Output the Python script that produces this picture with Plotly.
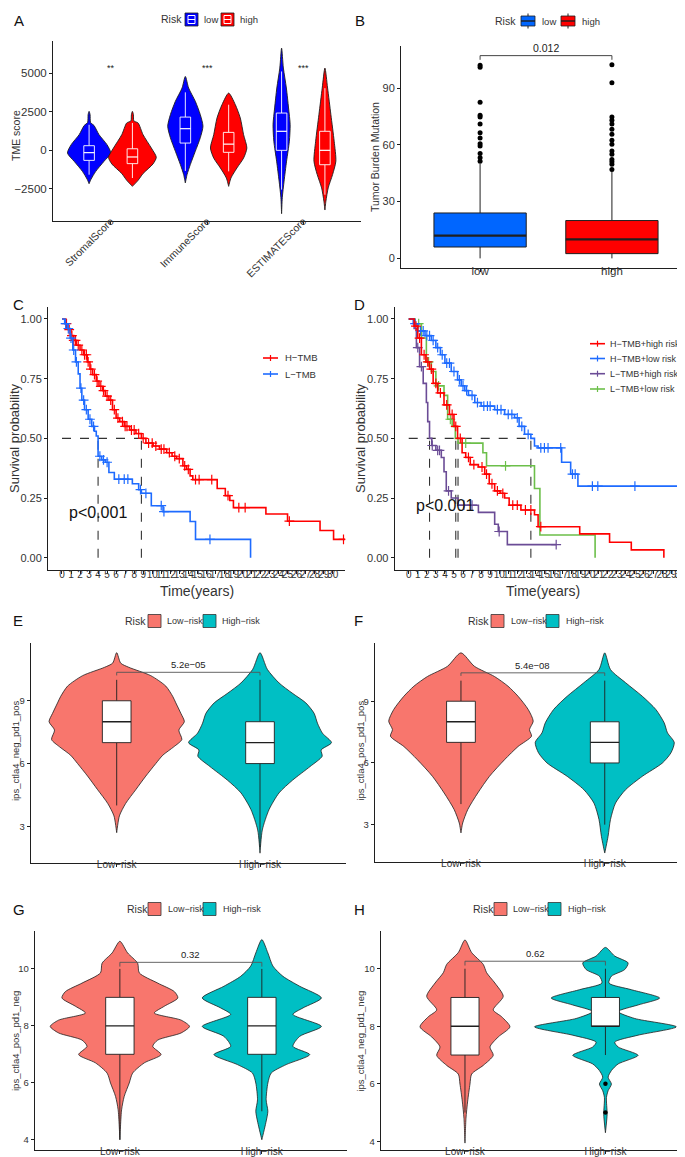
import numpy as np
import plotly.graph_objects as go

W, H = 685, 1157
FONT = "Liberation Sans, Arial, Helvetica, sans-serif"
INK = "#1f1f1f"
TXT = "#333333"


def px(x):
    return x / W


def py(y):
    return 1 - y / H


# ---------------- Panel A : TME score violins ----------------
A_CATEGORIES = ["StromalScore", "ImmuneScore", "ESTIMATEScore"]
A_SIGNIF = ["**", "***", "***"]
A_SIGNIF_Y = 5300
A_LOW_Q1 = [-650, 470, 0]
A_LOW_MED = [-150, 1400, 1230]
A_LOW_Q3 = [300, 2150, 2410]
A_LOW_LO = [-1575, -1330, -2540]
A_LOW_HI = [1650, 3750, 5100]
A_HIGH_Q1 = [-860, -130, -930]
A_HIGH_MED = [-430, 400, 0]
A_HIGH_Q3 = [100, 1160, 1230]
A_HIGH_LO = [-1790, -1360, -2870]
A_HIGH_HI = [1770, 2950, 4020]
A_STROMAL_LOW_VALS = [2520, 2300, 1800, 1600, 1010, 365, -175, -710, -1360, -1900, -2160]
A_STROMAL_LOW_DENS = [0, 1.0, 1.5, 5, 10, 18, 21.7, 15, 6.7, 1.7, 0]
A_STROMAL_HIGH_VALS = [2520, 2300, 1900, 1770, 1010, 150, -450, -880, -1500, -1940, -2330]
A_STROMAL_HIGH_DENS = [0, 1.0, 1.5, 5.7, 10.7, 19, 24, 20.7, 10.7, 5.7, 0]
A_IMMUNE_LOW_VALS = [4780, 4030, 3170, 2310, 1560, 810, -60, -920, -1570, -2110]
A_IMMUNE_LOW_DENS = [0, 3.3, 10, 15, 17.7, 15, 10, 5, 1.7, 0]
A_IMMUNE_HIGH_VALS = [3700, 2950, 2090, 1010, 150, -500, -1140, -1790, -2330]
A_IMMUNE_HIGH_DENS = [0, 6.7, 11.7, 15, 18.3, 15, 8.3, 2.3, 0]
A_ESTIMATE_LOW_VALS = [6610, 5320, 4030, 2740, 1660, 590, -700, -1990, -3060, -4100]
A_ESTIMATE_LOW_DENS = [0, 1.8, 4.8, 7.0, 8.6, 7.8, 5.0, 2.5, 0.7, 0]
A_ESTIMATE_HIGH_VALS = [5320, 4030, 2310, 590, -700, -1570, -2430, -3290, -3860]
A_ESTIMATE_HIGH_DENS = [0, 2.7, 6, 9.3, 11, 7.7, 3.3, 1, 0]

# ---------------- Panel B : TMB boxplot ----------------
B_CATEGORIES = ["low", "high"]
B_Q1 = [6, 2.5]
B_MEDIAN = [12, 10]
B_Q3 = [24, 20]
B_LOWER = [0, 0]
B_UPPER = [50, 46]
B_OUTLIERS_LOW = [51.4, 53.2, 55.5, 59.4, 60.6, 63.7, 66.4, 71.1, 74.8, 75.7, 82.6, 101.1, 102.1]
B_OUTLIERS_HIGH = [47, 49.7, 51.1, 52.3, 55, 56.8, 60.3, 62.5, 65.6, 68.3, 71, 73, 74.8, 92.8, 102.4]
B_PVALUE = "0.012"
B_BRACKET_Y = 107.2
B_BRACKET_TIP = 105.0

# ---------------- Panel C : KM by TMB ----------------
C_HTMB_T = [0, 0.4, 0.7, 1.0, 1.3, 1.6, 2.0, 2.4, 2.8, 3.1, 3.4, 3.8, 4.1, 4.5, 4.8, 5.2, 5.6, 6.0,
            6.4, 6.9, 7.5, 8.2, 8.8, 9.3, 10.1, 10.8, 11.6, 12.2, 12.7, 13.4, 13.8, 14.2, 14.5,
            17.2, 18.1, 18.6, 19.0, 22.6, 25.0, 28.6, 30.1, 31.4]
C_HTMB_S = [1, 0.98, 0.955, 0.93, 0.91, 0.89, 0.87, 0.85, 0.82, 0.79, 0.767, 0.74, 0.718, 0.70,
            0.677, 0.66, 0.62, 0.585, 0.57, 0.55, 0.535, 0.52, 0.50, 0.48, 0.468, 0.455, 0.44,
            0.425, 0.415, 0.385, 0.37, 0.343, 0.327, 0.29, 0.26, 0.24, 0.21, 0.183, 0.153, 0.114,
            0.077, 0.077]
C_HTMB_CENSOR = [0.5, 0.8, 1.1, 1.3, 1.5, 1.8, 2.2, 2.5, 2.7, 2.9, 3.2, 3.6, 3.9, 4.3, 4.6, 5.0,
                 5.4, 5.8, 6.2, 6.7, 7.0, 7.2, 7.7, 8.0, 8.5, 9.0, 9.6, 10.0, 10.4, 11.0, 11.3,
                 11.9, 12.5, 13.0, 13.6, 14.0, 14.8, 15.2, 16.6, 18.4, 19.6, 20.3, 25.2, 31.2]
C_LTMB_T = [0, 0.3, 0.6, 0.9, 1.2, 1.5, 1.8, 2.0, 2.2, 2.5, 2.9, 3.3, 3.6, 3.8, 4.0, 4.4, 4.8, 5.2,
            5.8, 7.8, 8.5, 8.8, 9.9, 11.2, 14.2, 14.8, 20.9]
C_LTMB_S = [1, 0.98, 0.96, 0.92, 0.87, 0.82, 0.77, 0.71, 0.66, 0.62, 0.58, 0.55, 0.53, 0.51, 0.425,
            0.41, 0.40, 0.357, 0.329, 0.31, 0.285, 0.27, 0.218, 0.193, 0.152, 0.077, 0]
C_LTMB_CENSOR = [0.4, 0.7, 1.0, 1.3, 1.6, 2.1, 2.4, 2.7, 3.1, 3.5, 4.2, 4.6, 5.0, 6.3, 6.9, 7.3,
                 8.7, 9.3, 11.0, 11.3, 16.4]
C_MEDIANS = [4.0, 8.8]
C_LABELS = ["H\u2212TMB", "L\u2212TMB"]

# ---------------- Panel D : KM by TMB + risk ----------------
D_HH_T = [0, 0.6, 1.0, 1.4, 1.9, 2.3, 2.7, 3.2, 3.9, 4.5, 5.0, 5.4, 5.9, 6.3, 6.8, 7.7, 8.4, 8.9,
          9.5, 10.1, 10.6, 11.1, 12.4, 13.9, 14.3, 18.9, 22.2, 24.6, 28.2]
D_HH_S = [1, 0.97, 0.92, 0.85, 0.82, 0.79, 0.73, 0.69, 0.64, 0.60, 0.55, 0.50, 0.44, 0.42, 0.39,
          0.38, 0.35, 0.31, 0.28, 0.27, 0.25, 0.22, 0.20, 0.18, 0.13, 0.10, 0.065, 0.033, 0]
D_HH_CENSOR = [0.8, 1.2, 1.7, 2.1, 2.5, 3.0, 3.5, 4.2, 4.8, 5.2, 5.7, 6.6, 7.2, 8.1, 8.6, 9.2, 9.8,
               10.4, 11.5, 12.0, 12.9, 13.5, 14.6]
D_HL_T = [0, 0.5, 1.0, 1.8, 2.5, 3.0, 3.5, 4.0, 4.7, 5.4, 5.8, 6.2, 6.6, 7.3, 8.0, 9.5, 10.6, 11.7,
          12.2, 12.8, 13.5, 13.9, 14.3, 16.9, 17.9, 18.7, 29.8, 30.7]
D_HL_S = [1, 0.98, 0.95, 0.93, 0.91, 0.88, 0.85, 0.815, 0.78, 0.745, 0.72, 0.70, 0.68, 0.65, 0.635,
          0.62, 0.60, 0.586, 0.55, 0.517, 0.50, 0.468, 0.46, 0.40, 0.35, 0.30, 0.20, 0.20]
D_HL_CENSOR = [0.7, 1.3, 1.6, 2.0, 2.3, 2.7, 3.2, 3.7, 4.2, 4.5, 5.0, 5.6, 6.0, 6.4, 7.0, 7.6, 8.3,
               8.7, 9.0, 9.8, 10.2, 11.0, 11.4, 12.0, 12.5, 13.2, 14.6, 15.0, 15.4, 16.8, 18.1,
               18.4, 20.3, 20.9, 25.0, 30.6]
D_LH_T = [0, 0.6, 0.85, 1.2, 1.6, 1.95, 2.1, 2.3, 2.55, 3.0, 3.6, 3.9, 4.15, 4.7, 5.45, 7.7, 9.5,
          9.9, 10.9, 16.3]
D_LH_S = [1, 0.96, 0.88, 0.80, 0.73, 0.65, 0.57, 0.50, 0.47, 0.45, 0.42, 0.36, 0.28, 0.25, 0.22,
          0.19, 0.14, 0.11, 0.055, 0.055]
D_LH_CENSOR = [1.0, 1.4, 2.6, 3.2, 3.4, 4.4, 6.1, 7.0, 10.0, 16.3]
D_LL_T = [0, 0.7, 1.4, 1.95, 2.5, 3.0, 3.9, 4.3, 4.8, 5.15, 5.45, 8.2, 8.6, 13.9, 14.5, 20.6]
D_LL_S = [1, 0.98, 0.92, 0.82, 0.78, 0.72, 0.68, 0.58, 0.55, 0.50, 0.48, 0.44, 0.385, 0.29, 0.095, 0]
D_LL_CENSOR = [1.1, 2.2, 3.3, 4.6, 6.3, 10.7]
D_MEDIANS = [2.3, 5.2, 5.45, 13.5]
D_LABELS = ["H\u2212TMB+high risk", "H\u2212TMB+low risk", "L\u2212TMB+high risk", "L\u2212TMB+low risk"]

KM_TICKS = list(range(0, 31))
SURV_TICKS = [0, 0.25, 0.5, 0.75, 1.0]
SURV_TICKTEXT = ["0.00", "0.25", "0.50", "0.75", "1.00"]

# ---------------- Panels E-H : IPS violins ----------------
RISK_CATEGORIES = ["Low\u2212risk", "High\u2212risk"]
E_LOW_VALS = [11.3, 10.8, 10.6, 10.2, 9.7, 9.2, 8.9, 8.4, 8.0, 7.6, 7.15, 6.8, 6.4, 6.0, 5.4, 4.75, 4.1, 3.5, 2.7]
E_LOW_DENS = [0, 4, 12, 34, 49, 56, 59, 64, 67.5, 62, 65, 57, 46, 39, 29, 19, 9, 2.7, 0]
E_HIGH_VALS = [11.3, 10.5, 9.85, 9.37, 8.9, 8.4, 7.93, 7.45, 7.0, 6.65, 6.35, 5.86, 5.2, 4.6, 3.8, 2.83, 1.72]
E_HIGH_DENS = [0, 7.3, 19, 32, 45.7, 54, 57.3, 62.3, 71.3, 61, 62, 50, 32.3, 19, 9, 2.3, 0]
E_BOX = {"q1": [7, 6], "med": [8, 7], "q3": [9, 8], "lo": [4, 2], "hi": [10, 10]}
E_PVALUE, E_BRACKET_Y = "5.2e\u221205", 10.36

F_LOW_VALS = [11.35, 10.7, 10.2, 9.73, 9.24, 8.6, 8.03, 7.62, 7.3, 6.8, 6.16, 5.35, 4.54, 3.73, 3.08, 2.6]
F_LOW_DENS = [0, 13.3, 33.3, 46.7, 56.7, 66.7, 71.7, 68, 70, 56.7, 43.3, 28.3, 16.7, 6.7, 1.7, 0]
F_HIGH_VALS = [11.35, 10.54, 9.9, 9.24, 8.6, 7.95, 7.46, 7.0, 6.49, 6.0, 5.35, 4.7, 4.05, 3.25, 2.43, 1.62]
F_HIGH_DENS = [0, 5.7, 20.7, 37.3, 50.7, 59, 62.3, 69, 65.7, 57.3, 37.3, 20.7, 10.7, 5.7, 3.3, 0]
F_BOX = {"q1": [7, 6], "med": [8, 7], "q3": [9, 8], "lo": [4, 3], "hi": [10, 10]}
F_PVALUE, F_BRACKET_Y = "5.4e\u221208", 10.38

G_LOW_VALS = [10.97, 10.56, 10.2, 9.86, 9.5, 9.2, 8.98, 8.69, 8.45, 8.2, 7.98, 7.75, 7.5, 7.28, 6.99,
              6.7, 6.34, 5.99, 5.52, 5.05, 4.0]
G_LOW_DENS = [0, 7.7, 17.7, 19.3, 37.7, 54.3, 57.7, 44.3, 34.3, 61, 69.3, 61, 37.7, 32.7, 41, 24.3,
              12.7, 9.3, 4.3, 1.7, 0]
G_HIGH_VALS = [11.03, 10.56, 10.1, 9.74, 9.39, 8.98, 8.63, 8.4, 7.98, 7.63, 7.28, 6.99, 6.64, 6.34,
               5.99, 5.4, 5.0, 4.6, 4.0]
G_HIGH_DENS = [0, 6, 11, 21, 37.7, 59.3, 41, 31, 59.3, 37.7, 31, 47.7, 24.3, 9.3, 6, 4.3, 6, 4, 0]
G_BOX = {"q1": [7, 7], "med": [8, 8], "q3": [9, 9], "lo": [4, 5], "hi": [10, 10]}
G_PVALUE, G_BRACKET_Y = "0.32", 10.23

H_LOW_VALS = [11.0, 10.56, 10.15, 9.86, 9.5, 9.04, 8.57, 8.33, 7.98, 7.63, 7.28, 6.99, 6.64, 6.34,
              5.99, 5.4, 4.8, 3.94]
H_LOW_DENS = [0, 6.7, 18.3, 21.7, 30, 38.3, 28.3, 36.7, 45, 33.3, 25, 28.3, 18.3, 6.7, 5, 2.7, 1, 0]
H_HIGH_VALS = [10.74, 10.44, 10.2, 9.97, 9.74, 9.5, 9.27, 8.98, 8.74, 8.51, 8.27, 7.98, 7.69, 7.45,
               7.28, 6.99, 6.69, 6.46, 6.23, 5.99, 5.76, 5.52, 4.94, 4.3]
H_HIGH_DENS = [0, 9.3, 22.7, 19.3, 6, 3.5, 26, 54.3, 32.7, 12.7, 29.3, 71, 32.7, 9.3, 12.7, 32.7,
               12.7, 6, 2.7, 6, 2.7, 1, 1.7, 0]
H_BOX = {"q1": [7, 8], "med": [8, 8], "q3": [9, 9], "lo": [5, 7], "hi": [10, 10]}
H_OUTLIERS_HIGH = [6, 5]
H_PVALUE, H_BRACKET_Y = "0.62", 10.26

# ---------------- colours ----------------
A_COLORS = {"low": "#0000FF", "high": "#FF0000"}
B_COLORS = ["#0066FF", "#FF0000"]
RISK_COLORS = ["#F8766D", "#00BFC4"]
C_COLORS = ["#FF0000", "#1E6BFF"]
D_COLORS = ["#FF0000", "#1E6BFF", "#6B4C96", "#6CBF4A"]

fig = go.Figure()


def violin(center, vals, dens, scale, fill, xa, ya, lw=0.9):
    v = np.asarray(vals, float)
    w = np.asarray(dens, float) * scale
    xs = np.concatenate([center + w, (center - w)[::-1]])
    ys = np.concatenate([v, v[::-1]])
    fig.add_trace(go.Scatter(x=xs, y=ys, fill="toself", fillcolor=fill, mode="lines",
                             line=dict(color=INK, width=lw, shape="spline", smoothing=0.7),
                             xaxis=xa, yaxis=ya, hoverinfo="skip", showlegend=False))


def box(pos, q1, med, q3, lo, hi, width, fill, line, xa, ya, lw=1.0, mlw=None):
    h = width / 2
    common = dict(xaxis=xa, yaxis=ya, hoverinfo="skip", showlegend=False)
    fig.add_trace(go.Scatter(x=[pos, pos, None, pos, pos], y=[q3, hi, None, q1, lo], mode="lines",
                             line=dict(color=line, width=lw), **common))
    fig.add_trace(go.Scatter(x=[pos - h, pos + h, pos + h, pos - h, pos - h], y=[q1, q1, q3, q3, q1],
                             mode="lines", fill="toself", fillcolor=fill,
                             line=dict(color=line, width=lw), **common))
    fig.add_trace(go.Scatter(x=[pos - h, pos + h], y=[med, med], mode="lines",
                             line=dict(color=line, width=mlw or lw * 1.4), **common))


# ---- Panel A traces
A_SPACING = 96.7
a_profiles = [
    (A_STROMAL_LOW_VALS, A_STROMAL_LOW_DENS, A_STROMAL_HIGH_VALS, A_STROMAL_HIGH_DENS),
    (A_IMMUNE_LOW_VALS, A_IMMUNE_LOW_DENS, A_IMMUNE_HIGH_VALS, A_IMMUNE_HIGH_DENS),
    (A_ESTIMATE_LOW_VALS, A_ESTIMATE_LOW_DENS, A_ESTIMATE_HIGH_VALS, A_ESTIMATE_HIGH_DENS),
]
for i, (lv, ld, hv, hd) in enumerate(a_profiles):
    c = i + 1
    violin(c - 0.225, lv, ld, 1 / A_SPACING, A_COLORS["low"], "x", "y")
    violin(c + 0.225, hv, hd, 1 / A_SPACING, A_COLORS["high"], "x", "y")
    box(c - 0.225, A_LOW_Q1[i], A_LOW_MED[i], A_LOW_Q3[i], A_LOW_LO[i], A_LOW_HI[i], 0.11,
        A_COLORS["low"], "white", "x", "y", lw=0.9, mlw=1.2)
    box(c + 0.225, A_HIGH_Q1[i], A_HIGH_MED[i], A_HIGH_Q3[i], A_HIGH_LO[i], A_HIGH_HI[i], 0.11,
        A_COLORS["high"], "white", "x", "y", lw=0.9, mlw=1.2)

# ---- Panel B traces
for i in range(2):
    box(i + 1, B_Q1[i], B_MEDIAN[i], B_Q3[i], B_LOWER[i], B_UPPER[i], 0.7, B_COLORS[i], INK,
        "x2", "y2", lw=1.0, mlw=2.2)
fig.add_trace(go.Scatter(x=[1] * len(B_OUTLIERS_LOW) + [2] * len(B_OUTLIERS_HIGH),
                         y=B_OUTLIERS_LOW + B_OUTLIERS_HIGH, mode="markers",
                         marker=dict(color="black", size=5), xaxis="x2", yaxis="y2",
                         hoverinfo="skip", showlegend=False))
fig.add_trace(go.Scatter(x=[1, 1, 2, 2], y=[B_BRACKET_TIP, B_BRACKET_Y, B_BRACKET_Y, B_BRACKET_TIP],
                         mode="lines", line=dict(color="#444", width=1), xaxis="x2", yaxis="y2",
                         hoverinfo="skip", showlegend=False))


# ---- KM helpers
def km(times, surv, censor, color, xa, ya):
    fig.add_trace(go.Scatter(x=times, y=surv, mode="lines", line=dict(color=color, width=1.6, shape="hv"),
                             xaxis=xa, yaxis=ya, hoverinfo="skip", showlegend=False))
    t = np.asarray(times)
    s = np.asarray(surv)
    idx = np.searchsorted(t, np.asarray(censor), side="right") - 1
    fig.add_trace(go.Scatter(x=censor, y=s[idx], mode="markers",
                             marker=dict(symbol="cross-thin", size=7, line=dict(color=color, width=1.2)),
                             xaxis=xa, yaxis=ya, hoverinfo="skip", showlegend=False))


def median_lines(medians, xa, ya):
    m = max(medians)
    fig.add_trace(go.Scatter(x=[0, m], y=[0.5, 0.5], mode="lines",
                             line=dict(color="#333", width=1.1, dash="dash"),
                             xaxis=xa, yaxis=ya, hoverinfo="skip", showlegend=False))
    for t in medians:
        fig.add_trace(go.Scatter(x=[t, t], y=[0, 0.5], mode="lines",
                                 line=dict(color="#333", width=1.1, dash="dash"),
                                 xaxis=xa, yaxis=ya, hoverinfo="skip", showlegend=False))


median_lines(C_MEDIANS, "x3", "y3")
km(C_HTMB_T, C_HTMB_S, C_HTMB_CENSOR, C_COLORS[0], "x3", "y3")
km(C_LTMB_T, C_LTMB_S, C_LTMB_CENSOR, C_COLORS[1], "x3", "y3")

median_lines(D_MEDIANS, "x4", "y4")
km(D_LL_T, D_LL_S, D_LL_CENSOR, D_COLORS[3], "x4", "y4")
km(D_LH_T, D_LH_S, D_LH_CENSOR, D_COLORS[2], "x4", "y4")
km(D_HL_T, D_HL_S, D_HL_CENSOR, D_COLORS[1], "x4", "y4")
km(D_HH_T, D_HH_S, D_HH_CENSOR, D_COLORS[0], "x4", "y4")

# ---- Panels E-H traces
ips_panels = [
    ("x5", "y5", 143.0, E_LOW_VALS, E_LOW_DENS, E_HIGH_VALS, E_HIGH_DENS, E_BOX, E_PVALUE, E_BRACKET_Y),
    ("x6", "y6", 142.7, F_LOW_VALS, F_LOW_DENS, F_HIGH_VALS, F_HIGH_DENS, F_BOX, F_PVALUE, F_BRACKET_Y),
    ("x7", "y7", 141.3, G_LOW_VALS, G_LOW_DENS, G_HIGH_VALS, G_HIGH_DENS, G_BOX, G_PVALUE, G_BRACKET_Y),
    ("x8", "y8", 140.6, H_LOW_VALS, H_LOW_DENS, H_HIGH_VALS, H_HIGH_DENS, H_BOX, H_PVALUE, H_BRACKET_Y),
]
for xa, ya, sp, lv, ld, hv, hd, bx, pval, by in ips_panels:
    violin(1, lv, ld, 1 / sp, RISK_COLORS[0], xa, ya, lw=0.8)
    violin(2, hv, hd, 1 / sp, RISK_COLORS[1], xa, ya, lw=0.8)
    for j in range(2):
        box(j + 1, bx["q1"][j], bx["med"][j], bx["q3"][j], bx["lo"][j], bx["hi"][j], 0.2,
            "white", INK, xa, ya, lw=0.9, mlw=1.4)
    fig.add_trace(go.Scatter(x=[1, 1, 2, 2], y=[by - 0.15, by, by, by - 0.15], mode="lines",
                             line=dict(color="#555", width=0.9), xaxis=xa, yaxis=ya,
                             hoverinfo="skip", showlegend=False))
fig.add_trace(go.Scatter(x=[2] * len(H_OUTLIERS_HIGH), y=H_OUTLIERS_HIGH, mode="markers",
                         marker=dict(color="black", size=4.5), xaxis="x8", yaxis="y8",
                         hoverinfo="skip", showlegend=False))


# ---------------- axes ----------------
def xaxis(x0, x1, rng, anchor, tickvals, ticktext, size, angle=0, standoff=-4):
    return dict(domain=[px(x0), px(x1)], range=rng, anchor=anchor, showline=True, linecolor=INK,
                linewidth=1, ticks="outside", ticklen=3, tickwidth=1, tickcolor=INK,
                showgrid=False, zeroline=False, tickmode="array", tickvals=tickvals,
                ticktext=ticktext, tickangle=angle, automargin=False, ticklabelstandoff=standoff,
                tickfont=dict(family=FONT, size=size, color=TXT))


def yaxis(ytop, ybot, rng, anchor, tickvals, ticktext, size):
    return dict(domain=[py(ybot), py(ytop)], range=rng, anchor=anchor, showline=True,
                linecolor=INK, linewidth=1, ticks="outside", ticklen=3, tickwidth=1,
                tickcolor=INK, showgrid=False, zeroline=False, tickmode="array",
                tickvals=tickvals, ticktext=ticktext, automargin=False,
                tickfont=dict(family=FONT, size=size, color=TXT))


layout_axes = dict(
    xaxis=xaxis(45, 353, [0.4, 3.6], "y", [1, 2, 3], A_CATEGORIES, 10.5, -45, standoff=-14),
    yaxis=yaxis(33, 213, [-4570, 7070], "x", [-2500, 0, 2500, 5000], ["\u22122500", "0", "2500", "5000"], 11.5),
    xaxis2=xaxis(393, 683, [0.4, 2.6], "y2", [1, 2], B_CATEGORIES, 11.5, standoff=-11),
    yaxis2=yaxis(38, 260, [-5.1, 112.3], "x2", [0, 30, 60, 90], ["0", "30", "60", "90"], 11),
    xaxis3=xaxis(40, 337.3, [-1.55, 31.4], "y3", KM_TICKS, [str(t) for t in KM_TICKS], 10, standoff=-8),
    yaxis3=yaxis(299, 561.7, [-0.05, 1.05], "x3", SURV_TICKS, SURV_TICKTEXT, 11),
    xaxis4=xaxis(386.7, 683, [-1.55, 31.2], "y4", KM_TICKS, [str(t) for t in KM_TICKS], 10, standoff=-8),
    yaxis4=yaxis(299, 561.7, [-0.05, 1.05], "x4", SURV_TICKS, SURV_TICKTEXT, 11),
    xaxis5=xaxis(22.7, 338, [0.4, 2.6], "y5", [1, 2], RISK_CATEGORIES, 10, standoff=-11),
    yaxis5=yaxis(635, 855, [1.25, 11.76], "x5", [3, 6, 9], ["3", "6", "9"], 9.5),
    xaxis6=xaxis(366.7, 683, [0.4, 2.6], "y6", [1, 2], RISK_CATEGORIES, 10, standoff=-11),
    yaxis6=yaxis(635, 854.3, [1.17, 11.83], "x6", [3, 6, 9], ["3", "6", "9"], 9.5),
    xaxis7=xaxis(26.7, 339, [0.4, 2.6], "y7", [1, 2], RISK_CATEGORIES, 10, standoff=-11),
    yaxis7=yaxis(923.3, 1141.7, [3.65, 11.32], "x7", [4, 6, 8, 10], ["4", "6", "8", "10"], 9.5),
    xaxis8=xaxis(372.7, 681.7, [0.4, 2.6], "y8", [1, 2], RISK_CATEGORIES, 10, standoff=-11),
    yaxis8=yaxis(923.3, 1141.7, [3.71, 11.3], "x8", [4, 6, 8, 10], ["4", "6", "8", "10"], 9.5),
)

# ---------------- annotations ----------------
ann = []


def text(x, y, s, size, anchor_x="center", anchor_y="middle", angle=0, color=TXT, xref="paper", yref="paper"):
    if xref == "paper":
        x = px(x)
    if yref == "paper":
        y = py(y)
    ann.append(dict(x=x, y=y, xref=xref, yref=yref, text=s, showarrow=False, textangle=angle,
                    xanchor=anchor_x, yanchor=anchor_y,
                    font=dict(family=FONT, size=size, color=color)))


# panel letters
for lab, x, y in [("A", 4, 12), ("B", 345, 12), ("C", 3, 297), ("D", 344, 297),
                  ("E", 3, 612), ("F", 344, 612), ("G", 3, 901), ("H", 344, 901)]:
    text(x, y, lab, 15, "left", "middle", color="#111")

# axis titles
text(8, 128, "TME score", 10.5, angle=-90)
text(367, 149, "Tumor Burden Mutation", 10.5, angle=-90)
text(7, 430, "Survival probability", 13, angle=-90)
text(353, 430, "Survival probability", 13, angle=-90)
text(189, 583, "Time(years)", 14)
text(535, 583, "Time(years)", 14)
text(7, 743, "ips_ctla4_neg_pd1_pos", 9.5, angle=-90)
text(351.7, 743, "ips_ctla4_pos_pd1_pos", 9.5, angle=-90)
text(7, 1033, "ips_ctla4_pos_pd1_neg", 9.5, angle=-90)
text(351.7, 1033, "ips_ctla4_neg_pd1_neg", 9.5, angle=-90)

# significance labels
for i, s in enumerate(A_SIGNIF):
    text(i + 1, A_SIGNIF_Y, s, 9, xref="x", yref="y", color="#222")
text(1.5, B_BRACKET_Y, B_PVALUE, 10.5, anchor_y="bottom", xref="x2", yref="y2", color="#222")
for (xa, ya, sp, lv, ld, hv, hd, bx, pval, by) in ips_panels:
    text(1.5, by, pval, 9.5, anchor_y="bottom", xref=xa, yref=ya, color="#222")
text(59, 505, "p<0.001", 16, "left", color="#111")
text(406, 497, "p<0.001", 16, "left", color="#111")

# ---------------- legends (drawn keys) ----------------
shapes = []


def rect(x0, y0, x1, y1, fill, line, lw=0.8):
    shapes.append(dict(type="rect", xref="paper", yref="paper", x0=px(x0), x1=px(x1), y0=py(y1), y1=py(y0),
                       fillcolor=fill, line=dict(color=line, width=lw), layer="above"))


def seg(x0, y0, x1, y1, color, lw=1):
    shapes.append(dict(type="line", xref="paper", yref="paper", x0=px(x0), x1=px(x1), y0=py(y0), y1=py(y1),
                       line=dict(color=color, width=lw), layer="above"))


# A legend
text(151, 11, "Risk", 10.5, "left")
for (x0, key, lab) in [(177, "low", "low"), (213, "high", "high")]:
    rect(x0, 5, x0 + 13, 18, A_COLORS[key], INK)
    rect(x0 + 3, 7.5, x0 + 10, 15.5, A_COLORS[key], "white", 1)
    seg(x0 + 3, 11.5, x0 + 10, 11.5, "white", 1)
    text(x0 + 17, 11, lab, 9.5, "left")

# B legend
text(485, 13, "Risk", 10.5, "left")
for (x0, col, lab) in [(513, B_COLORS[0], "low"), (553, B_COLORS[1], "high")]:
    seg(x0 + 7, 5.5, x0 + 7, 20.5, INK, 1)
    rect(x0, 8, x0 + 14, 18, col, INK)
    seg(x0, 13, x0 + 14, 13, INK, 1.4)
    text(x0 + 19, 13, lab, 9.5, "left")

# E-H legends
for (rx, kx1, tx1, kx2, tx2, ly) in [(115, 140, 157, 195, 212, 613), (458, 483, 501, 538, 556, 613),
                                      (117, 140, 158, 195, 213, 901), (463, 486, 503, 540, 558, 901)]:
    text(rx, ly, "Risk", 10.5, "left")
    rect(kx1, ly - 6.5, kx1 + 13, ly + 6.5, RISK_COLORS[0], "#333")
    text(tx1, ly, RISK_CATEGORIES[0], 9, "left")
    rect(kx2, ly - 6.5, kx2 + 13, ly + 6.5, RISK_COLORS[1], "#333")
    text(tx2, ly, RISK_CATEGORIES[1], 9, "left")

# KM legends
for i, (lab, y) in enumerate(zip(C_LABELS, [350, 366])):
    seg(255, y, 270, y, C_COLORS[i], 1.6)
    seg(262.5, y - 3, 262.5, y + 3, C_COLORS[i], 1.2)
    text(275, y, lab, 9.5, "left")
for i, (lab, y) in enumerate(zip(D_LABELS, [335.7, 350.5, 365.7, 381])):
    seg(582, y, 597, y, D_COLORS[i], 1.6)
    seg(589.5, y - 3, 589.5, y + 3, D_COLORS[i], 1.2)
    text(600, y, lab, 9, "left")

fig.update_layout(
    width=W, height=H, margin=dict(l=0, r=0, t=0, b=0),
    paper_bgcolor="white", plot_bgcolor="white", showlegend=False,
    annotations=ann, shapes=shapes,
    font=dict(family=FONT, size=10, color=TXT),
    **layout_axes,
)

fig.write_html("out.html")
